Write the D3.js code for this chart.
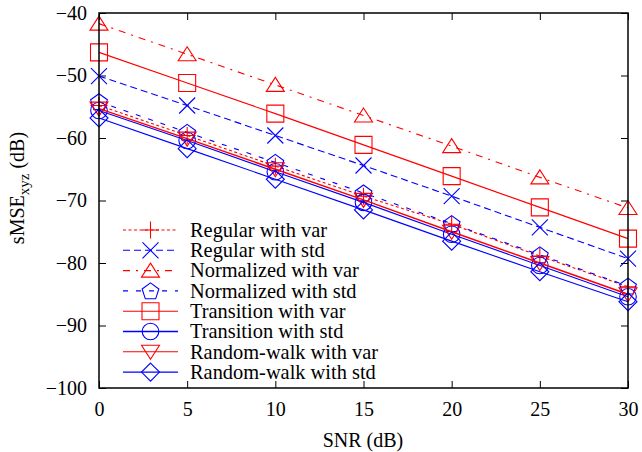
<!DOCTYPE html>
<html>
<head>
<meta charset="utf-8">
<script src="https://cdn.jsdelivr.net/npm/d3@7"></script>
<style>
  html, body { margin: 0; padding: 0; background: #fff; }
  svg { display: block; }
  text { font-family: "Liberation Serif", "Times New Roman", serif; fill: #000; }
</style>
</head>
<body>
<div id="chart"></div>
<script>
(function () {
  // data
  const snr = [0, 5, 10, 15, 20, 25, 30];
  const regularVar     = [-54.8, -59.6, -64.5, -69.3, -73.8, -78.9, -83.8];
  const regularStd     = [-50.1, -54.8, -59.6, -64.4, -69.3, -74.3, -79.3];
  const normalizedVar  = [-41.7, -46.6, -51.5, -56.4, -61.3, -66.3, -71.2];
  const normalizedStd  = [-54.2, -59.1, -63.9, -68.8, -73.7, -78.7, -83.7];
  const transitionVar  = [-46.3, -51.2, -56.1, -61.1, -66.1, -71.1, -76.1];
  const transitionStd  = [-55.6, -60.4, -65.4, -70.3, -75.4, -80.4, -85.4];
  const randomWalkVar  = [-55.3, -60.1, -65.0, -69.9, -75.0, -80.0, -85.0];
  const randomWalkStd  = [-56.8, -61.7, -66.6, -71.5, -76.5, -81.4, -86.2];

  const xTicks = [0, 5, 10, 15, 20, 25, 30];
  const yTicks = [-100, -90, -80, -70, -60, -50, -40];

  const RED = '#ff0000';
  const BLUE = '#0000ff';

  const series = [
    { name: 'Regular with var',     values: regularVar,    color: RED,  dash: '3,2.5',    mark: 'plus' },
    { name: 'Regular with std',     values: regularStd,    color: BLUE, dash: '7,4',      mark: 'cross' },
    { name: 'Normalized with var',  values: normalizedVar, color: RED,  dash: '7,6,2,6',  mark: 'triangle' },
    { name: 'Normalized with std',  values: normalizedStd, color: BLUE, dash: '5,8',      mark: 'pentagon' },
    { name: 'Transition with var',  values: transitionVar, color: RED,  dash: null,       mark: 'square' },
    { name: 'Transition with std',  values: transitionStd, color: BLUE, dash: null,       mark: 'circle' },
    { name: 'Random-walk with var', values: randomWalkVar, color: RED,  dash: null,       mark: 'itriangle' },
    { name: 'Random-walk with std', values: randomWalkStd, color: BLUE, dash: null,       mark: 'diamond' }
  ];

  const W = 642, H = 452;
  const left = 99, right = 628, top = 13, bottom = 388;

  const x = d3.scaleLinear().domain([0, 30]).range([left, right]);
  const y = d3.scaleLinear().domain([-100, -40]).range([bottom, top]);

  const svg = d3.select('#chart').append('svg')
    .attr('width', W).attr('height', H);

  function markPath(type) {
    var s = 8.5;
    switch (type) {
      case 'plus': return 'M' + (-s) + ',0H' + s + 'M0,' + (-s) + 'V' + s;
      case 'cross': return 'M-8,-8L8,8M-8,8L8,-8';
      case 'triangle': return 'M0,-7.5L9,6.5L-9,6.5Z';
      case 'itriangle': return 'M0,7.5L9,-6.5L-9,-6.5Z';
      case 'square': return 'M-8.5,-8.5H8.5V8.5H-8.5Z';
      case 'circle': return d3.arc()({ innerRadius: 0, outerRadius: 8.3, startAngle: 0, endAngle: 2 * Math.PI });
      case 'diamond': return 'M0,-9L9,0L0,9L-9,0Z';
      case 'pentagon':
        var r = 8.8, pts = [];
        for (var i = 0; i < 5; i++) {
          var a = -Math.PI / 2 + i * 2 * Math.PI / 5;
          pts.push([r * Math.cos(a), r * Math.sin(a) + 0.8]);
        }
        return 'M' + pts.map(function (p) { return p[0].toFixed(2) + ',' + p[1].toFixed(2); }).join('L') + 'Z';
    }
  }

  const line = d3.line()
    .x(function (d) { return x(d[0]); })
    .y(function (d) { return y(d[1]); });

  const plot = svg.append('g');

  series.forEach(function (s) {
    var pts = snr.map(function (v, i) { return [v, s.values[i]]; });
    var g = plot.append('g');
    g.append('path')
      .attr('d', line(pts))
      .attr('fill', 'none')
      .attr('stroke', s.color)
      .attr('stroke-width', s.mark === 'itriangle' ? 1.5 : 1.1)
      .attr('stroke-dasharray', s.dash);
    g.selectAll('path.mk')
      .data(pts)
      .join('path')
      .attr('class', 'mk')
      .attr('transform', function (d) { return 'translate(' + x(d[0]) + ',' + y(d[1]) + ')'; })
      .attr('d', markPath(s.mark))
      .attr('fill', 'none')
      .attr('stroke', s.color)
      .attr('stroke-width', 1.1);
  });

  // axes with inward ticks on all four sides
  const tickLen = 7;
  svg.append('g')
    .attr('transform', 'translate(0,' + bottom + ')')
    .call(d3.axisBottom(x).tickValues(xTicks).tickSize(-tickLen).tickPadding(14).tickFormat(d3.format('d')))
    .call(function (g) { g.select('.domain').remove(); });
  svg.append('g')
    .attr('transform', 'translate(0,' + top + ')')
    .call(d3.axisTop(x).tickValues(xTicks).tickSize(-tickLen).tickFormat(''))
    .call(function (g) { g.select('.domain').remove(); });
  svg.append('g')
    .attr('transform', 'translate(' + left + ',0)')
    .call(d3.axisLeft(y).tickValues(yTicks).tickSize(-tickLen).tickPadding(12).tickFormat(d3.format('d')))
    .call(function (g) { g.select('.domain').remove(); });
  svg.append('g')
    .attr('transform', 'translate(' + right + ',0)')
    .call(d3.axisRight(y).tickValues(yTicks).tickSize(-tickLen).tickFormat(''))
    .call(function (g) { g.select('.domain').remove(); });

  svg.selectAll('.tick line').attr('stroke', '#000').attr('stroke-width', 1);
  svg.selectAll('.tick text')
    .style('font-family', '"Liberation Serif", serif')
    .style('font-size', '20px')
    .attr('fill', '#000');

  svg.append('rect')
    .attr('x', left).attr('y', top)
    .attr('width', right - left).attr('height', bottom - top)
    .attr('fill', 'none').attr('stroke', '#000').attr('stroke-width', 1.5);

  // legend
  const legend = svg.append('g');
  const lx0 = 123, lx1 = 178, ly0 = 230, lstep = 20.3;
  series.forEach(function (s, i) {
    var yy = ly0 + i * lstep;
    legend.append('line')
      .attr('x1', lx0).attr('x2', lx1).attr('y1', yy).attr('y2', yy)
      .attr('stroke', s.color)
      .attr('stroke-width', s.mark === 'circle' ? 1.6 : 1.1)
      .attr('stroke-dasharray', s.dash);
    legend.append('path')
      .attr('transform', 'translate(' + ((lx0 + lx1) / 2) + ',' + yy + ')')
      .attr('d', markPath(s.mark))
      .attr('fill', 'none')
      .attr('stroke', s.color)
      .attr('stroke-width', 1.1);
    legend.append('text')
      .attr('x', 190).attr('y', yy)
      .attr('dy', '0.33em')
      .style('font-size', '20.4px')
      .text(s.name);
  });

  // axis titles
  svg.append('text')
    .attr('x', 363).attr('y', 447)
    .attr('text-anchor', 'middle')
    .style('font-size', '20px')
    .text('SNR (dB)');

  const yl = svg.append('text')
    .attr('transform', 'translate(24,188) rotate(-90)')
    .attr('text-anchor', 'middle')
    .style('font-size', '20px');
  yl.append('tspan').text('sMSE');
  yl.append('tspan').attr('dy', 5).style('font-size', '15px').text('xyz');
  yl.append('tspan').attr('dy', -5).text(' (dB)');
})();
</script>
</body>
</html>
